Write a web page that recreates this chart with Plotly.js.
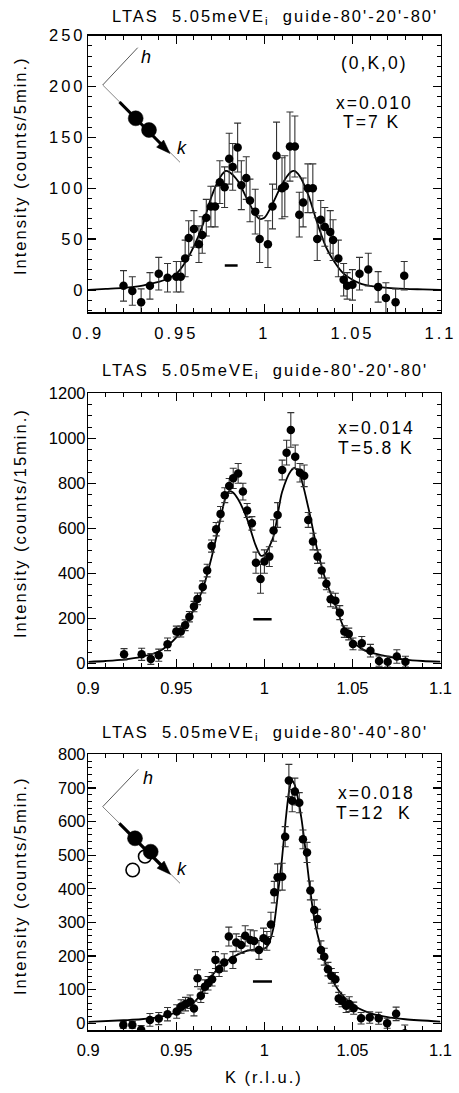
<!DOCTYPE html>
<html>
<head>
<meta charset="utf-8">
<script src="https://cdn.plot.ly/plotly-3.0.1.min.js"></script>
<style>
html,body{margin:0;padding:0;background:#fff;}
#chart{width:459px;height:1093px;}
.xtick text,.ytick text{letter-spacing:3px;}
.annotation-text{letter-spacing:2px;}
</style>
</head>
<body>
<div id="chart"></div>
<script>
// ---------- Panel 1: x=0.010, T=7 K ----------
const k1 = [0.920,0.925,0.930,0.935,0.940,0.945,0.950,0.9525,0.955,0.957,0.960,0.9628,0.9647,0.967,0.9696,0.972,0.9747,0.9774,0.980,0.982,0.9848,0.9869,0.9897,0.9918,0.9948,0.9973,1.002,1.0046,1.0069,1.010,1.0116,1.0145,1.0173,1.0198,1.022,1.0247,1.0275,1.030,1.032,1.0343,1.0374,1.039,1.042,1.045,1.047,1.050,1.054,1.059,1.0646,1.069,1.0745,1.0794];
const i1 = [4,-1,-12,4,16,12,13,13,31,51,60,45,54,71,82,82,106,101,129,121,140,103,110,88,77,50,45,82,132,100,102,141,141,74,86,100,100,50,69,62,57,49,31,10,4,5,16,20,3,-8,-12,14];
const e1 = [15,14,13,13,16,14,15,15,18,17,18,18,18,18,20,20,21,20,25,23,24,24,21,21,22,23,23,22,33,30,30,34,30,22,24,24,24,21,19,19,21,20,18,16,13,15,16,16,15,15,13,14];
const fitK1 = [0.90,0.91,0.92,0.93,0.935,0.94,0.945,0.95,0.955,0.96,0.965,0.97,0.975,0.978,0.98,0.985,0.99,0.995,0.997,1.0,1.005,1.01,1.015,1.017,1.02,1.025,1.03,1.035,1.04,1.045,1.05,1.055,1.06,1.07,1.08,1.09,1.10];
const fit1 = [0,1,2,4,6,8,11,16,27,43,64,92,111,117,116,107,90,74,70,71,86,104,116,117,112,93,66,42,27,16,10,6,4,2,1,0.5,0];

// ---------- Panel 2: x=0.014, T=5.8 K ----------
const k2 = [0.9203,0.9303,0.9355,0.940,0.945,0.950,0.9525,0.955,0.9574,0.960,0.962,0.965,0.9675,0.970,0.9726,0.9751,0.9775,0.980,0.9823,0.9851,0.9878,0.9902,0.9929,0.9952,0.9978,1.000,1.0028,1.0052,1.0075,1.0101,1.0126,1.015,1.0175,1.0202,1.0226,1.0249,1.0276,1.0302,1.0325,1.0352,1.0376,1.0403,1.0428,1.0454,1.0479,1.0503,1.0553,1.0602,1.0651,1.070,1.0752,1.0801];
const i2 = [40,40,19,36,84,141,141,169,207,252,286,339,412,521,596,664,747,788,822,844,763,679,622,447,375,452,474,590,659,859,936,1037,918,847,833,637,541,474,412,353,284,278,225,141,130,86,89,56,10,7,30,7];
const e2 = [25,27,24,27,28,24,24,24,23,23,26,27,28,27,30,33,33,33,45,44,37,31,30,47,64,52,44,48,55,44,55,77,52,41,48,33,37,30,33,26,33,33,31,26,26,26,30,28,23,24,30,24];
const fitK2 = [0.90,0.91,0.92,0.93,0.94,0.945,0.95,0.955,0.96,0.965,0.97,0.975,0.978,0.98,0.982,0.985,0.99,0.995,0.998,1.0,1.005,1.01,1.015,1.017,1.02,1.025,1.03,1.035,1.04,1.045,1.05,1.055,1.06,1.07,1.08,1.09,1.10];
const fit2 = [6,10,16,28,52,78,115,170,240,330,470,640,740,765,760,730,645,525,478,482,560,760,855,868,840,690,505,365,265,160,100,65,48,30,16,10,7];

// ---------- Panel 3: x=0.018, T=12 K ----------
const k3 = [0.9199,0.925,0.930,0.935,0.940,0.945,0.9502,0.9527,0.9552,0.9578,0.960,0.962,0.9639,0.9662,0.968,0.9703,0.9722,0.9743,0.9772,0.9798,0.9821,0.984,0.9868,0.9891,0.992,0.9942,0.9969,0.9995,1.0014,1.0037,1.0056,1.0075,1.0101,1.0118,1.0139,1.0158,1.0173,1.0198,1.0219,1.0242,1.0261,1.0283,1.0302,1.0321,1.034,1.0361,1.038,1.0403,1.0422,1.0441,1.0464,1.0482,1.0507,1.0549,1.0598,1.0649,1.0697,1.0748,1.0797];
const i3 = [-5,-5,-19,10,14,27,35,50,57,64,44,134,82,109,119,131,188,161,181,258,188,240,233,260,248,245,218,253,245,294,390,434,436,555,722,662,689,656,547,508,395,337,310,218,198,161,141,131,74,67,52,57,45,15,17,15,0,28,-30];
const e3 = [10,10,12,19,18,20,20,20,20,20,22,25,20,20,20,20,25,22,26,28,25,26,25,30,30,30,28,30,28,36,32,40,40,30,48,33,40,30,28,30,28,30,29,27,25,20,22,20,18,18,20,22,18,17,17,18,15,20,25];
const fitK3 = [0.90,0.92,0.93,0.94,0.95,0.955,0.96,0.965,0.97,0.975,0.98,0.985,0.99,0.995,1.0,1.002,1.005,1.008,1.01,1.012,1.014,1.0155,1.017,1.019,1.021,1.023,1.025,1.028,1.03,1.035,1.04,1.045,1.05,1.06,1.07,1.08,1.10];
const fit3 = [4,9,12,18,32,45,62,95,140,170,190,205,215,220,222,232,280,400,490,600,690,722,712,670,610,530,440,320,268,175,115,79,55,30,18,12,5];

// resolution bars (K start, K end, height)
const res1 = [0.9775, 0.9848, 24];
const res2 = [0.9937, 1.0041, 196];
const res3 = [0.9935, 1.0043, 124];

// tick labels
const xTicks = [0.9, 0.95, 1, 1.05, 1.1];
const xTickText = ['0.9', '0.95', '1', '1.05', '1.1'];

const W = 459, H = 1093;
const FONT = 'Liberation Sans, Arial, Helvetica, sans-serif';
const X = x => x / W, Y = y => 1 - y / H;

function dataTrace(k, v, e, xa, ya) {
  return {x: k, y: v, xaxis: xa, yaxis: ya, type: 'scatter', mode: 'markers',
    marker: {size: 8.5, color: '#000'},
    error_y: {type: 'data', array: e, visible: true, color: '#333', thickness: 1.1, width: 3.5},
    showlegend: false, hoverinfo: 'skip'};
}
function fitTrace(k, v, xa, ya) {
  return {x: k, y: v, xaxis: xa, yaxis: ya, type: 'scatter', mode: 'lines',
    line: {color: '#000', width: 1.8, shape: 'spline', smoothing: 0.8},
    showlegend: false, hoverinfo: 'skip'};
}

const traces = [
  fitTrace(fitK1, fit1, 'x', 'y'), dataTrace(k1, i1, e1, 'x', 'y'),
  fitTrace(fitK2, fit2, 'x2', 'y2'), dataTrace(k2, i2, e2, 'x2', 'y2'),
  fitTrace(fitK3, fit3, 'x3', 'y3'), dataTrace(k3, i3, e3, 'x3', 'y3')
];

const TF = {family: FONT, size: 16.5, color: '#000'};
const xdom = [X(88.3), X(440.5)];
function xAxis(anchor) {
  return {domain: xdom, anchor: anchor, range: [0.9, 1.1], tickvals: xTicks, ticktext: xTickText,
    ticks: 'inside', ticklen: 8, tickwidth: 1.2, tickcolor: '#000', ticklabelstandoff: 5,
    minor: {dtick: 0.01, tick0: 0.9, ticks: 'inside', ticklen: 4, tickwidth: 1, tickcolor: '#000'},
    showline: true, linecolor: '#000', linewidth: 1.5, mirror: 'ticks',
    showgrid: false, zeroline: false, tickfont: TF, fixedrange: true};
}
function yAxis(anchor, dom, range, dtick, minorDt) {
  return {domain: dom, anchor: anchor, range: range, tick0: 0, dtick: dtick,
    ticks: 'inside', ticklen: 8, tickwidth: 1.2, tickcolor: '#000', ticklabelstandoff: -2,
    minor: {dtick: minorDt, tick0: 0, ticks: 'inside', ticklen: 4, tickwidth: 1, tickcolor: '#000'},
    showline: true, linecolor: '#000', linewidth: 1.5, mirror: 'ticks',
    showgrid: false, zeroline: false, tickfont: TF, fixedrange: true};
}

function ln(x0, y0, x1, y1, w, c) {
  return {type: 'line', xref: 'paper', yref: 'paper', x0: X(x0), y0: Y(y0), x1: X(x1), y1: Y(y1),
    line: {color: c || '#000', width: w}};
}
function circ(cx, cy, r, filled) {
  return {type: 'circle', xref: 'paper', yref: 'paper', x0: X(cx - r), x1: X(cx + r), y0: Y(cy + r), y1: Y(cy - r),
    fillcolor: filled ? '#000' : '#fff', line: {color: '#000', width: filled ? 0.5 : 1.6}};
}
function head(tx, ty) {
  const ux = Math.SQRT1_2, uy = Math.SQRT1_2, L = 14, hw = 5;
  const bx = tx - L * ux, by = ty - L * uy;
  const p1 = [bx - hw * uy, by + hw * ux], p2 = [bx + hw * uy, by - hw * ux];
  return {type: 'path', xref: 'paper', yref: 'paper',
    path: `M ${X(tx)} ${Y(ty)} L ${X(p1[0])} ${Y(p1[1])} L ${X(p2[0])} ${Y(p2[1])} Z`,
    fillcolor: '#000', line: {color: '#000', width: 0.5}};
}
function resBar(r, xa, ya) {
  return {type: 'line', xref: xa, yref: ya, x0: r[0], x1: r[1], y0: r[2], y1: r[2], line: {color: '#000', width: 2.5}};
}

const shapes = [
  // panel 1 inset
  ln(102.7, 85, 137.7, 47.7, 0.9, '#444'), ln(102.7, 85, 180, 162.3, 0.9, '#777'),
  ln(119.5, 102, 162, 145, 3.2), head(170, 153.5),
  circ(135.7, 118.3, 7.5, true), circ(149, 130, 7.5, true),
  // panel 3 inset
  ln(102.7, 806.7, 138.3, 769.3, 0.9, '#444'), ln(102.7, 806.7, 180, 883.3, 0.9, '#777'),
  ln(119.3, 823.3, 162, 866, 3.2), head(170.5, 874.5),
  circ(145, 856.5, 6.5, false),
  circ(135, 838.3, 7.5, true), circ(150.7, 851.7, 7.5, true),
  circ(132.7, 870, 6.7, false),
  resBar(res1, 'x', 'y'), resBar(res2, 'x2', 'y2'), resBar(res3, 'x3', 'y3')
];

function txt(s, x, y, size, opts) {
  return Object.assign({text: s, xref: 'paper', yref: 'paper', x: X(x), y: Y(y), showarrow: false,
    xanchor: 'center', yanchor: 'middle', font: {family: FONT, size: size, color: '#000'}}, opts || {});
}
const nb = '\u00a0';
const annotations = [
  txt('LTAS' + nb + nb + '5.05meVE<sub>i</sub>' + nb + nb + "guide-80'-20'-80'", 275, 17, 16.5),
  txt('LTAS' + nb + nb + '5.05meVE<sub>i</sub>' + nb + nb + "guide-80'-20'-80'", 265, 371, 16.5),
  txt('LTAS' + nb + nb + '5.05meVE<sub>i</sub>' + nb + nb + "guide-80'-40'-80'", 265, 733, 16.5),
  txt('Intensity (counts/5min.)', 20, 166, 16.5, {textangle: -90}),
  txt('Intensity (counts/15min.)', 20, 523, 16.5, {textangle: -90}),
  txt('Intensity (counts/5min.)', 20, 886, 16.5, {textangle: -90}),
  txt('K (r.l.u.)', 264, 1077, 16.5),
  txt('(0,K,0)', 374, 63, 17.5),
  txt('x=0.010', 374, 103, 17.5),
  txt('T=7 K', 371, 122, 17.5),
  txt('x=0.014', 376, 428, 17.5),
  txt('T=5.8 K', 376, 448, 17.5),
  txt('x=0.018', 376, 793, 17.5),
  txt('T=12' + nb + ' K', 374, 813, 17.5),
  txt('<i>h</i>', 147, 56.7, 18),
  txt('<i>k</i>', 182, 148.3, 18),
  txt('<i>h</i>', 148.5, 778.3, 18),
  txt('<i>k</i>', 182, 869.3, 18)
];

const layout = {
  width: W, height: H, margin: {l: 0, r: 0, t: 0, b: 0},
  paper_bgcolor: '#fff', plot_bgcolor: '#fff', showlegend: false,
  font: {family: FONT, color: '#000'},
  xaxis: xAxis('y'), yaxis: yAxis('x', [Y(312.3), Y(35.7)], [-22, 250], 50, 10),
  xaxis2: xAxis('y2'), yaxis2: yAxis('x2', [Y(667.3), Y(393.3)], [-18, 1200], 200, 50),
  xaxis3: xAxis('y3'), yaxis3: yAxis('x3', [Y(1030), Y(754.3)], [-20, 800], 100, 20),
  shapes: shapes, annotations: annotations
};

Plotly.newPlot('chart', traces, layout, {staticPlot: true, displayModeBar: false});
</script>
</body>
</html>
